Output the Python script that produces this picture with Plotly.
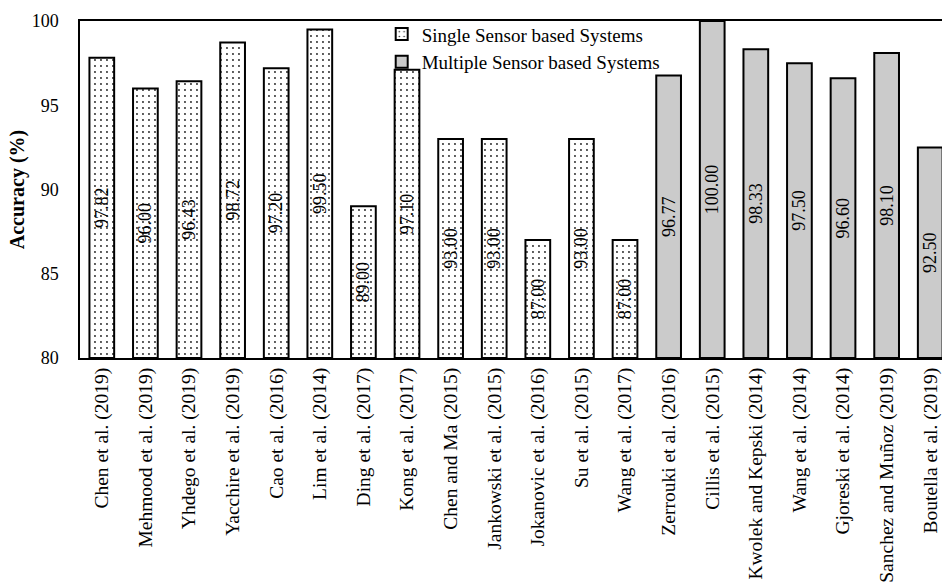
import plotly.graph_objects as go

# Studies and reported accuracies
single_studies = [
    "Chen et al. (2019)", "Mehmood et al. (2019)", "Yhdego et al. (2019)",
    "Yacchire et al. (2019)", "Cao et al. (2016)", "Lim et al. (2014)",
    "Ding et al. (2017)", "Kong et al. (2017)", "Chen and Ma (2015)",
    "Jankowski et al. (2015)", "Jokanovic et al. (2016)", "Su et al. (2015)",
    "Wang et al. (2017)",
]
single_acc = [97.82, 96.00, 96.43, 98.72, 97.20, 99.50, 89.00, 97.10,
              93.00, 93.00, 87.00, 93.00, 87.00]

multi_studies = [
    "Zerrouki et al. (2016)", "Cillis et al. (2015)",
    "Kwolek and Kepski (2014)", "Wang et al. (2014)",
    "Gjoreski et al. (2014)", "Sanchez and Muñoz (2019)",
    "Boutella et al. (2019)",
]
multi_acc = [96.77, 100.00, 98.33, 97.50, 96.60, 98.10, 92.50]

y_ticks = [80, 85, 90, 95, 100]

Y_MIN, Y_MAX = 80, 100
FONT = "Liberation Serif"

fig = go.Figure()


def add_group(names, values, label, pattern):
    fig.add_trace(go.Bar(
        name=label,
        x=names,
        y=[v - Y_MIN for v in values],
        base=Y_MIN,
        width=0.567,
        text=[f"{v:.2f}" for v in values],
        texttemplate="%{text}",
        textposition="inside",
        insidetextanchor="middle",
        textangle=-90,
        textfont=dict(family=FONT, size=18, color="black"),
        marker=dict(
            color=pattern["bg"],
            line=dict(color="black", width=2),
            pattern=pattern["pattern"],
        ),
    ))


add_group(single_studies, single_acc, "Single Sensor based Systems",
          dict(bg="white",
               pattern=dict(shape=".", fgcolor="#222222", bgcolor="white",
                            size=6, solidity=0.08, fillmode="replace")))
add_group(multi_studies, multi_acc, "Multiple Sensor based Systems",
          dict(bg="#d8d8d8",
               pattern=dict(shape=".", fgcolor="#aaaaaa", bgcolor="#e6e6e6",
                            size=2, solidity=0.5, fillmode="replace")))

all_names = single_studies + multi_studies

fig.update_layout(
    width=942, height=582,
    margin=dict(l=80, r=0, t=21, b=224),
    paper_bgcolor="white", plot_bgcolor="white",
    barmode="overlay",
    font=dict(family=FONT, size=18, color="black"),
    uniformtext=dict(minsize=18, mode="show"),
    showlegend=True,
    legend=dict(
        x=0.35, y=1.017, xanchor="left", yanchor="top",
        bgcolor="rgba(0,0,0,0)", borderwidth=0,
        font=dict(family=FONT, size=19, color="black"),
        itemwidth=30, tracegroupgap=0,
    ),
    xaxis=dict(
        type="category",
        categoryorder="array", categoryarray=all_names,
        range=[-0.5, 19.27],
        tickangle=-90,
        tickfont=dict(family=FONT, size=19.5, color="black"),
        showline=True, linecolor="black", linewidth=2, mirror=True,
        ticks="", showgrid=False, zeroline=False,
    ),
    yaxis=dict(
        range=[Y_MIN, Y_MAX],
        tickvals=y_ticks,
        tickfont=dict(family=FONT, size=18, color="black"),
        showline=True, linecolor="black", linewidth=1.5,
        ticks="", showgrid=False, zeroline=False,
        ticklabelstandoff=16,
        title=dict(text="<b>Accuracy (%)</b>",
                   font=dict(family=FONT, size=20, color="black"),
                   standoff=2),
    ),
)

fig.write_html("out.html")
